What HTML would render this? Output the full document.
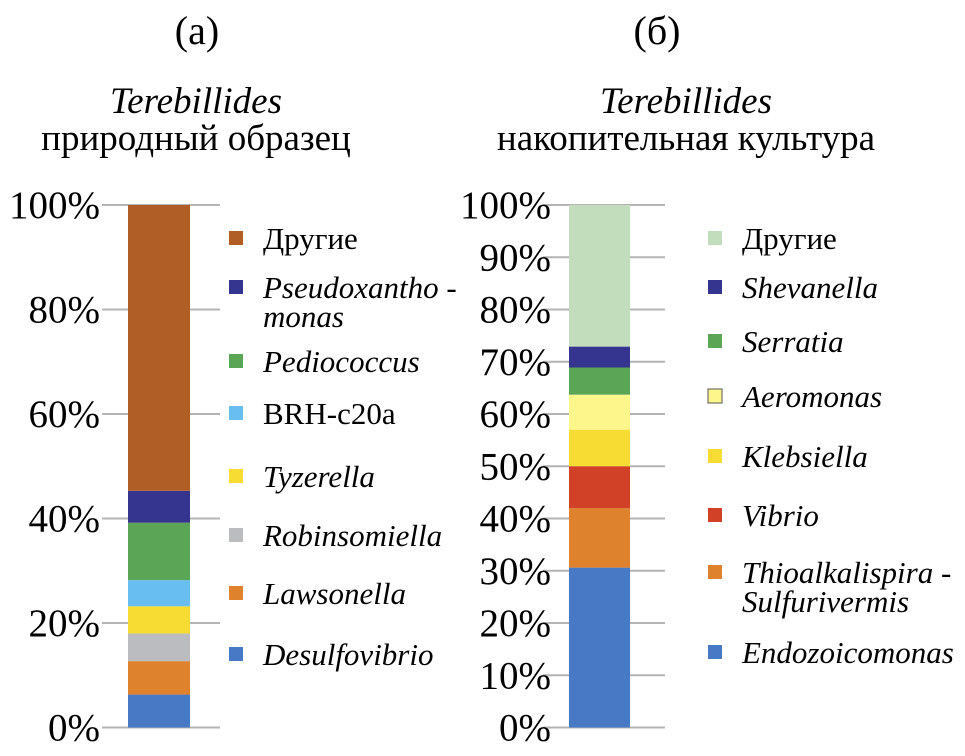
<!DOCTYPE html>
<html><head><meta charset="utf-8"><style>
body{margin:0;background:#fff}
svg text{font-family:"Liberation Serif",serif;fill:#000}
</style></head><body>
<svg id="s" width="965" height="751" xmlns="http://www.w3.org/2000/svg">
<text x="197" y="44" font-size="40" text-anchor="middle">(а)</text>
<text x="196" y="113" font-size="37" font-style="italic" text-anchor="middle">Terebillides</text>
<text x="196" y="150" font-size="37" text-anchor="middle">природный образец</text>
<text x="657" y="44" font-size="40" text-anchor="middle">(б)</text>
<text x="686" y="113" font-size="37" font-style="italic" text-anchor="middle">Terebillides</text>
<text x="686" y="150" font-size="37" text-anchor="middle">накопительная культура</text>
<g id="ga"></g><g id="gb"></g>
</svg>
<script>
const namesA=["Desulfovibrio","Lawsonella","Robinsomiella","Tyzerella","BRH-c20a","Pediococcus","Pseudoxanthomonas","Другие"];
const valuesA=[6.3,6.4,5.3,5.2,5.0,11.0,6.1,54.7];
const colorsA=["#4779c4","#de822e","#bbbcc0","#f6dc33","#68bdf1","#5aa556","#35348f","#b05d26"];
const ticksA=[0,20,40,60,80,100];
const namesB=["Endozoicomonas","Thioalkalispira-Sulfurivermis","Vibrio","Klebsiella","Aeromonas","Serratia","Shevanella","Другие"];
const valuesB=[30.6,11.4,8.0,7.0,6.7,5.2,4.0,27.1];
const colorsB=["#4779c4","#de822e","#d04128","#f6dc33","#fdf68a","#5aa556","#35348f","#c1ddbb"];
const ticksB=[0,10,20,30,40,50,60,70,80,90,100];
const NS="http://www.w3.org/2000/svg";
const y0=727.5,y1=205;
function yS(v){return y0-(y0-y1)*v/100;}
function mk(g,t,a){const e=document.createElementNS(NS,t);for(const k in a)e.setAttribute(k,a[k]);g.appendChild(e);return e;}
function draw(gid,vals,cols,names,ticks,gx0,gx1,bx,bw,lx,p){
 const g=document.getElementById(gid);
 ticks.forEach(t=>{const l=mk(g,'line',{x1:gx0,x2:gx1,y1:yS(t),y2:yS(t),stroke:'#b4b4b4','stroke-width':2});
 
 
 const tx=mk(g,'text',{x:lx,y:yS(t)+13,'font-size':39,'text-anchor':'end'});tx.textContent=t+'%';
 
 });
 let c=0;
 vals.forEach((v,i)=>{const r=mk(g,'rect',{x:bx,width:bw,y:yS(c+v),height:yS(c)-yS(c+v),fill:cols[i]});
 
 c+=v;});
}
draw('ga',valuesA,colorsA,namesA,ticksA,102,220,128,62,100,'a-');
draw('gb',valuesB,colorsB,namesB,ticksB,543,665,569,61,551,'b-');
const legA=[[7,238,["Другие"],false],[6,287,["Pseudoxantho -","monas"],true],[5,361,["Pediococcus"],true],[4,413,["BRH-c20a"],false],[3,476,["Tyzerella"],true],[2,535,["Robinsomiella"],true],[1,593,["Lawsonella"],true],[0,654,["Desulfovibrio"],true]];
const legB=[[7,238,["Другие"],false],[6,287,["Shevanella"],true],[5,341,["Serratia"],true],[4,396,["Aeromonas"],true],[3,456,["Klebsiella"],true],[2,515,["Vibrio"],true],[1,572,["Thioalkalispira -","Sulfurivermis"],true],[0,652,["Endozoicomonas"],true]];
function legend(L,cols,sx,p){const g=document.getElementById('s');
 L.forEach(([i,y,lines,it])=>{
 const r=mk(g,'rect',{x:sx,y:y-7,width:14,height:14,fill:cols[i],stroke:i==4&&p=='b-'?'#555':'none','stroke-width':1});
 
 
 lines.forEach((s,k)=>{const t=mk(g,'text',{x:sx+34,y:y+11+k*29,'font-size':31,'font-style':it?'italic':'normal'});t.textContent=s;
 
 });});}
legend(legA,colorsA,229,'a-');
legend(legB,colorsB,708,'b-');
</script>
</body></html>
